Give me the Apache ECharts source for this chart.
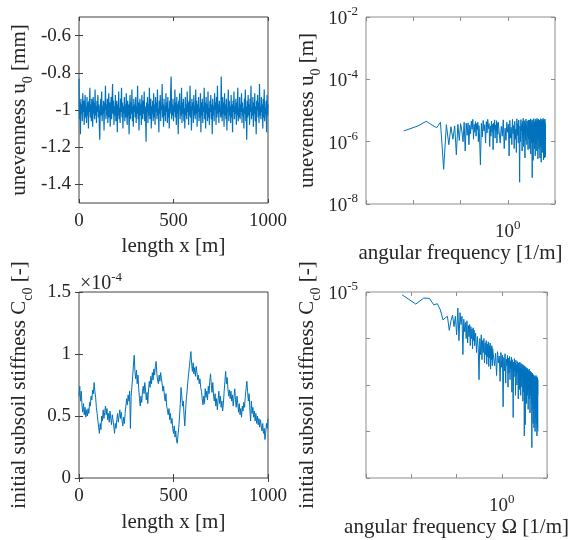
<!DOCTYPE html>
<html><head><meta charset="utf-8">
<script src="https://cdn.jsdelivr.net/npm/echarts@6/dist/echarts.min.js"></script>
<style>html,body{margin:0;padding:0;background:#fff}#c{width:571px;height:540px}</style>
</head><body><div id="c"></div>
<script>
// ---------------- DATA ----------------
// top-left: unevenness u0 [mm] along length x (step in m)
const unevennessStep = 2.5;
const unevenness = [
-0.83,-1.05,-0.96,-1.13,-0.94,-1.02,-0.97,-1.06,-0.91,-1.01,-0.95,-1.08,-0.99,-0.92,-1.04,-0.98,-1.07,-0.93,-1.03,-0.96,
-1.10,-0.95,-1.01,-0.88,-1.04,-0.97,-1.06,-0.94,-1.00,-1.09,-0.93,-1.02,-0.96,-1.05,-0.89,-1.03,-0.98,-1.07,-0.95,-1.01,
-0.92,-1.04,-0.97,-1.08,-1.16,-0.99,-0.94,-1.03,-0.90,-1.06,-0.98,-1.02,-0.95,-1.11,-0.96,-1.00,-0.87,-1.05,-0.97,-1.03,
-0.94,-1.07,-0.99,-0.91,-1.04,-0.96,-1.09,-1.01,-0.93,-1.05,-0.97,-0.86,-1.02,-0.95,-1.08,-0.98,-1.03,-0.92,-1.06,-1.00,
-0.95,-1.12,-0.97,-1.03,-0.90,-1.05,-0.99,-1.07,-0.94,-1.01,-0.88,-1.04,-0.96,-1.10,-0.98,-1.02,-0.93,-1.06,-0.97,-1.04,
-0.91,-1.00,-1.08,-0.95,-1.03,-0.97,-1.13,-0.99,-0.92,-1.05,-0.96,-1.02,-0.89,-1.06,-0.98,-1.09,-0.94,-1.01,-0.97,-1.04,
-0.93,-1.07,-0.98,-1.02,-0.87,-1.05,-0.96,-1.11,-0.99,-0.94,-1.03,-0.97,-1.08,-0.92,-1.00,-1.05,-0.95,-1.02,-0.90,-1.06,
-0.98,-1.04,-1.17,-0.96,-1.01,-0.93,-1.07,-0.97,-1.03,-0.88,-1.05,-0.99,-0.94,-1.10,-0.98,-1.02,-0.95,-1.06,-0.91,-1.04,
-0.97,-1.08,-0.93,-1.01,-0.96,-1.05,-0.89,-1.03,-0.99,-1.12,-0.95,-1.02,-0.92,-1.06,-0.98,-1.00,-0.86,-1.04,-0.97,-1.09,
-0.94,-1.03,-0.98,-1.06,-0.91,-1.01,-0.96,-1.07,-0.93,-1.04,-0.99,-1.10,-0.95,-1.02,-0.90,-0.82,-1.05,-0.97,-1.03,-0.94,
-1.06,-0.98,-1.01,-0.89,-1.04,-0.96,-1.08,-0.93,-1.02,-0.97,-1.13,-0.95,-1.00,-0.91,-1.05,-0.98,-1.03,-0.88,-1.07,-0.96,
-1.02,-0.94,-1.06,-0.99,-1.10,-0.93,-1.03,-0.97,-1.05,-0.90,-1.01,-0.96,-1.08,-0.95,-1.03,-0.87,-1.04,-0.98,-1.11,-0.94,
-1.00,-0.96,-1.07,-0.92,-1.03,-0.98,-1.05,-0.89,-1.02,-0.95,-1.09,-0.97,-1.01,-0.93,-1.06,-0.99,-1.04,-0.91,-1.12,-0.96,
-1.03,-0.94,-1.07,-0.98,-1.01,-0.88,-1.05,-0.96,-1.10,-0.93,-1.02,-0.97,-1.06,-0.90,-1.04,-0.99,-1.08,-0.95,-1.01,-0.92,
-1.05,-0.97,-1.13,-0.94,-1.03,-0.98,-1.06,-0.91,-1.00,-0.96,-1.08,-0.93,-1.04,-0.87,-1.02,-0.97,-1.07,-0.95,-1.01,-0.99,
-1.04,-0.82,-0.98,-1.06,-0.93,-1.02,-0.96,-1.09,-0.91,-1.03,-0.97,-1.05,-0.94,-1.11,-0.99,-1.01,-0.89,-1.06,-0.95,-1.03,
-0.98,-1.07,-0.92,-1.04,-0.97,-1.12,-0.95,-1.01,-0.90,-1.05,-0.98,-1.02,-0.94,-1.08,-0.96,-1.03,-0.88,-1.06,-0.99,-1.04,
-0.93,-1.05,-0.97,-1.01,-0.91,-1.07,-0.96,-1.03,-0.99,-1.10,-0.94,-1.02,-0.89,-1.06,-0.98,-1.16,-0.95,-1.04,-0.92,-1.03,
-0.97,-1.08,-0.94,-1.01,-0.87,-1.05,-0.99,-1.03,-0.93,-1.09,-0.96,-1.02,-0.91,-1.06,-0.98,-1.13,-0.95,-1.00,-0.92,-1.04,
-0.96,-1.07,-0.86,-1.03,-0.98,-1.05,-0.93,-1.01,-0.97,-1.10,-0.94,-1.04,-0.89,-1.06,-0.99,-1.02,-0.95,-1.12,-0.92,-1.03,
-0.97
];

// bottom-left: initial subsoil stiffness Cc0 (in units of 1e-4) along length x
const stiffnessStep = 4;
const stiffness = [
0.66,0.74,0.62,0.70,0.58,0.53,0.60,0.51,0.57,0.49,0.55,0.50,0.56,0.52,0.61,0.58,0.66,0.63,0.71,0.68,0.77,0.70,0.65,0.57,0.52,
0.46,0.41,0.36,0.44,0.39,0.50,0.46,0.55,0.48,0.53,0.58,0.51,0.56,0.47,0.52,0.45,0.54,0.48,0.43,0.51,0.47,0.42,0.36,0.44,0.40,
0.47,0.52,0.45,0.50,0.55,0.48,0.53,0.46,0.42,0.49,0.44,0.52,0.58,0.64,0.59,0.67,0.62,0.70,0.40,0.66,0.74,0.82,0.91,0.99,0.86,
0.80,0.87,0.76,0.83,0.72,0.64,0.58,0.66,0.61,0.70,0.74,0.68,0.77,0.71,0.63,0.69,0.60,0.72,0.78,0.73,0.82,0.76,0.85,0.79,0.88,
0.83,0.90,0.94,0.84,0.79,0.76,0.83,0.78,0.85,0.80,0.76,0.70,0.74,0.66,0.62,0.68,0.58,0.55,0.51,0.56,0.47,0.52,0.44,0.48,0.40,
0.36,0.42,0.33,0.38,0.30,0.28,0.35,0.41,0.50,0.60,0.73,0.66,0.58,0.62,0.50,0.42,0.55,0.64,0.70,0.78,0.84,0.90,0.96,1.02,0.92,
0.86,0.93,0.84,0.89,0.82,0.90,0.85,0.79,0.83,0.76,0.80,0.73,0.70,0.64,0.59,0.66,0.60,0.72,0.65,0.70,0.63,0.74,0.68,0.78,0.84,
0.75,0.69,0.77,0.66,0.62,0.68,0.58,0.64,0.55,0.63,0.70,0.60,0.66,0.57,0.62,0.54,0.60,0.70,0.78,0.86,0.76,0.81,0.72,0.66,0.71,
0.64,0.70,0.62,0.67,0.58,0.65,0.72,0.63,0.57,0.66,0.60,0.53,0.60,0.51,0.56,0.49,0.58,0.54,0.61,0.57,0.66,0.72,0.78,0.70,0.62,
0.68,0.55,0.46,0.62,0.52,0.57,0.49,0.54,0.46,0.52,0.44,0.50,0.43,0.48,0.41,0.47,0.42,0.38,0.44,0.36,0.40,0.31,0.37,0.44,0.40,
0.48
];

// spectra: angular frequency grid = index * freqStep
const freqStep = 0.0062832;
const freqIndexSegments = [[1, 40, 1], [42, 100, 2], [104, 998, 6]];

// top-right: spectrum of unevenness u0 [m]
const uSpecLow = [2.2e-6,3.2e-6,4.5e-6,3.4e-6,2.8e-6,4.2e-6,1.3e-7,3.5e-6,8e-7,3.0e-6,
1.2e-6,3.2e-6,3.8e-7,3.6e-6,1.1e-6,3.8e-6,2.2e-6,1.0e-6,4.2e-6,5.0e-7,
3.9e-6,1.6e-6,4.0e-6,8e-7,3.4e-6,1.8e-6,4.6e-6,2.5e-6,5.2e-6,1.2e-6,
3.6e-6,2.0e-6,4.4e-6,1.5e-6,3.8e-6,2.4e-6,4.2e-6,1.0e-6,3.3e-6,2.0e-6];
const uSpecMid = [1.8e-7,3.9e-6,1.4e-6,4.8e-6,2.2e-6,3.5e-6,9e-7,4.4e-6,1.9e-6,5.2e-6,
2.6e-6,3.8e-6,7e-7,3.2e-6,1.5e-6,4.6e-6,2.0e-6,3.6e-6,5.5e-7,4.0e-6,
2.4e-6,5.0e-6,1.3e-6,3.4e-6,2.1e-6,4.7e-6,9e-7,3.9e-6,1.7e-6,4.3e-6];
const uSpecHigh = [4.6e-6,9e-7,3.1e-6,1.5e-6,5.0e-6,6e-7,2.7e-6,1.1e-6,4.2e-6,2.0e-6,
3.6e-6,3.5e-7,4.8e-6,1.3e-6,2.9e-6,8e-7,5.2e-6,1.8e-6,3.3e-6,6e-7,
4.5e-6,1.2e-6,2.5e-6,4.5e-7,5.4e-6,1.6e-6,3.8e-6,9e-7,4.9e-6,1.4e-6,
5e-8,3.2e-6,1.0e-6,5.1e-6,2.2e-6,3.7e-6,5e-7,4.4e-6,1.3e-6,5.6e-6,
7e-7,3.0e-6,1.7e-6,4.7e-6,3e-7,3.9e-6,1.1e-6,5.3e-6,2.0e-6,3.4e-6,
8e-7,4.6e-6,1.5e-6,2.8e-6,5.5e-7,5.0e-6,1.2e-6,3.6e-6,2.4e-6,4.9e-6,
6e-7,3.1e-6,1.9e-6,5.4e-6,4e-7,4.2e-6,1.4e-6,3.3e-6,9e-7,5.1e-6,
7e-8,3.7e-6,1.6e-6,4.8e-6,2.5e-7,2.9e-6,1.0e-6,5.5e-6,1.8e-6,3.9e-6,
6e-7,4.4e-6,1.3e-6,3.2e-6,3.5e-7,5.2e-6,2.1e-6,3.6e-6,8e-7,4.7e-6,
1.5e-6,2.7e-6,5e-7,5.6e-6,1.2e-6,3.5e-6,2.3e-6,4.9e-6,2.8e-7,3.8e-6,
1.1e-6,5.3e-6,1.7e-6,3.0e-6,6e-7,4.5e-6,1.4e-6,3.4e-6,9e-7,5.0e-6,
3e-7,4.1e-6,1.9e-6,2.9e-6,7e-7,5.5e-6,1.2e-6,3.7e-6,2.2e-7,4.6e-6,
1.6e-6,3.2e-6,8e-7,5.2e-6,1.3e-6,3.9e-6,4.5e-7,4.8e-6,2.0e-6,3.1e-6,
6e-7,5.6e-6,1.1e-6,3.6e-6,2.6e-7,4.3e-6,1.5e-6,5.0e-6,7e-7,3.4e-6,
1.2e-6,4.7e-6,3e-7,3.8e-6,1.7e-6,5.3e-6,9e-7,4.0e-6,3.2e-7,3.5e-6];

// bottom-right: spectrum of initial subsoil stiffness Cc0 [-]
const cSpecLow = [8.7e-6,5.5e-6,7.4e-6,7.3e-6,5.3e-6,5.6e-6,4.1e-6,2.5e-6,2.8e-6,3.0e-6,
1.5e-6,2.4e-6,3.2e-6,1.8e-6,3.0e-6,1.2e-6,4.5e-6,9e-7,3.6e-6,2.0e-6,
3.0e-6,4.5e-7,2.6e-6,1.4e-6,2.2e-6,1.0e-6,2.4e-6,8e-7,1.9e-6,1.1e-6,
2.0e-6,7e-7,1.8e-6,1.0e-6,1.6e-6,6e-7,1.7e-6,9e-7,1.5e-6,7e-7];
const cSpecMid = [1.3e-6,5e-7,1.1e-6,6e-7,1.3e-7,1.0e-6,4.5e-7,1.2e-6,3.5e-7,9e-7,
5e-7,1.0e-6,3e-7,8e-7,4.5e-7,9e-7,2.8e-7,7.5e-7,4e-7,8.5e-7,
2.5e-7,7e-7,3.8e-7,8e-7,2.2e-7,6.5e-7,3.5e-7,7e-7,2.6e-7,6e-7];
const cSpecHigh = [5.5e-7,2.6e-7,4.8e-7,1.6e-7,5.2e-7,3.0e-7,4.2e-7,1.2e-7,5.0e-7,2.4e-7,
4.4e-7,3.4e-8,3.9e-7,2.0e-7,4.7e-7,1.1e-7,3.6e-7,2.6e-7,4.3e-7,9e-8,
3.8e-7,1.8e-7,4.1e-7,1.3e-7,3.3e-7,2.2e-7,4.0e-7,7e-8,3.5e-7,1.7e-7,
2.0e-8,3.1e-7,1.5e-7,3.7e-7,2.0e-7,2.9e-7,6e-8,3.4e-7,1.6e-7,2.7e-7,
1.0e-7,3.2e-7,1.9e-7,2.6e-7,5e-8,3.0e-7,1.4e-7,2.5e-7,8e-8,3.1e-7,
1.7e-7,2.3e-7,6e-8,2.9e-7,1.3e-7,2.4e-7,9e-8,2.8e-7,1.5e-7,2.2e-7,
4.5e-8,2.7e-7,1.2e-7,2.1e-7,7e-8,2.6e-7,8e-9,2.3e-7,1.1e-7,2.5e-7,
1.4e-8,2.0e-7,9e-8,2.4e-7,1.3e-7,1.9e-7,4e-8,2.2e-7,1.0e-7,2.3e-7,
6e-8,1.8e-7,1.2e-7,2.1e-7,3e-8,2.0e-7,8e-8,1.7e-7,1.1e-7,2.2e-7,
5e-8,1.9e-7,9e-8,1.6e-7,2.5e-8,2.0e-7,1.0e-7,1.8e-7,6e-8,1.5e-7,
1.1e-7,1.9e-7,4e-8,1.7e-7,8e-8,4.5e-9,1.6e-7,9e-8,1.8e-7,3e-8,
1.4e-7,7e-8,1.7e-7,1.5e-8,1.5e-7,5e-8,1.6e-7,1.0e-7,1.4e-7,1.2e-8,
1.6e-7,6e-8,1.3e-7,3e-8,1.5e-7,8e-8,1.2e-7,1.0e-8,1.4e-7,5e-8,
1.5e-7,2e-8,1.3e-7,9e-8,1.6e-7,1.5e-8,1.2e-7,4e-8,1.4e-7,7e-8,
1.3e-7,8e-9,1.5e-7,5e-8,1.2e-7,1.2e-8,1.4e-7,6e-8,1.3e-7,1.0e-8];

// axis texts
const unevennessTicks = [-1.4, -1.2, -1, -0.8, -0.6];

// ---------------- BUILD ----------------
const freqIndex = [];
freqIndexSegments.forEach(([a, b, s]) => { for (let k = a; k <= b; k += s) freqIndex.push(k); });
const freq = freqIndex.map(k => k * freqStep);
const uSpec = uSpecLow.concat(uSpecMid, uSpecHigh);
const cSpec = cSpecLow.concat(cSpecMid, cSpecHigh);

const FONT = '"Liberation Serif", "Times New Roman", serif';
const TXT = '#262626';
const BLUE = '#0072BD';
const TICK_FS = 19;
const NAME_FS = 21;

const nameRich = {
  t: { fontFamily: FONT, fontSize: NAME_FS, color: TXT, verticalAlign: 'bottom', padding: [0, 0, 5, 0] },
  s: { fontFamily: FONT, fontSize: 14, color: TXT, verticalAlign: 'bottom', padding: [0, 0, 0, 0] }
};
const expRich = {
  b: { fontFamily: FONT, fontSize: TICK_FS, color: TXT, verticalAlign: 'bottom' },
  e: { fontFamily: FONT, fontSize: 13, color: TXT, verticalAlign: 'bottom', padding: [0, 0, 10, 0] }
};
function expFmt(only) {
  return function (v) {
    const e = Math.round(Math.log10(v));
    if (only !== undefined && only.indexOf(e) < 0) return '';
    return '{b|10}{e|' + e + '}';
  };
}
const plainFmt = v => String(+(+v).toFixed(2));

const grids = [
  { left: 79, top: 17, width: 189, height: 186, borderColor: '#404040' },
  { left: 366, top: 17, width: 189, height: 187, borderColor: '#8c8c8c' },
  { left: 79, top: 292, width: 189, height: 186, borderColor: '#404040' },
  { left: 366, top: 292, width: 189, height: 186, borderColor: '#8c8c8c' }
].map(g => Object.assign({ show: true, borderWidth: 1, backgroundColor: 'transparent' }, g));

function tick(color) { return { show: true, inside: true, length: 4, lineStyle: { color: color, width: 1 } }; }

function mkX(gi, base, name, labelExtra, gap) {
  const bottom = Object.assign({}, base, {
    gridIndex: gi, position: 'bottom',
    axisLine: { show: false }, splitLine: { show: false },
    axisTick: tick(grids[gi].borderColor),
    axisLabel: Object.assign({ fontFamily: FONT, fontSize: TICK_FS, color: TXT, margin: 9, showMinLabel: true, showMaxLabel: true }, labelExtra),
    name: name, nameLocation: 'middle', nameGap: gap,
    nameTextStyle: { fontFamily: FONT, fontSize: NAME_FS, color: TXT }
  });
  const top = Object.assign({}, base, {
    gridIndex: gi, position: 'top',
    axisLine: { show: false }, splitLine: { show: false },
    axisTick: tick(grids[gi].borderColor),
    axisLabel: { show: false }
  });
  return [bottom, top];
}
function mkY(gi, base, name, gap, labelExtra, tickExtra) {
  const left = Object.assign({}, base, {
    gridIndex: gi, position: 'left',
    axisLine: { show: false }, splitLine: { show: false },
    axisTick: Object.assign(tick(grids[gi].borderColor), tickExtra || {}),
    axisLabel: Object.assign({ fontFamily: FONT, fontSize: TICK_FS, color: TXT, margin: 8, showMinLabel: true, showMaxLabel: true }, labelExtra),
    name: name, nameLocation: 'middle', nameGap: gap, nameRotate: 90,
    nameTextStyle: { rich: nameRich }
  });
  const right = Object.assign({}, base, {
    gridIndex: gi, position: 'right',
    axisLine: { show: false }, splitLine: { show: false },
    axisTick: Object.assign(tick(grids[gi].borderColor), tickExtra || {}),
    axisLabel: { show: false }
  });
  return [left, right];
}

const xAxes = [].concat(
  mkX(0, { type: 'value', min: 0, max: 1000, interval: 500 }, 'length x [m]', { formatter: plainFmt }, 33),
  mkX(1, { type: 'log', logBase: 10, min: 0.001, max: 10, interval: 1 }, 'angular frequency [1/m]',
    { formatter: expFmt([0]), rich: expRich, margin: 15 }, 34),
  mkX(2, { type: 'value', min: 0, max: 1000, interval: 500 }, 'length x [m]', { formatter: plainFmt }, 34),
  mkX(3, { type: 'log', logBase: 10, min: 0.001, max: 10, interval: 1 }, 'angular frequency \u03A9 [1/m]',
    { formatter: expFmt([0]), rich: expRich, margin: 15 }, 34)
);

const yAxes = [].concat(
  mkY(0, { type: 'value', min: -1.5, max: -0.5 }, '{t|unevenness u}{s|0}{t| [mm]}', 44,
    { customValues: unevennessTicks, formatter: plainFmt }, { customValues: unevennessTicks }),
  mkY(1, { type: 'log', logBase: 10, min: 1e-8, max: 1e-2, interval: 2 }, '{t|unevenness u}{s|0}{t| [m]}', 43,
    { formatter: expFmt(), rich: expRich }),
  mkY(2, { type: 'value', min: 0, max: 1.5, interval: 0.5 }, '{t|initial subsoil stiffness C}{s|c0}{t| [-]}', 44,
    { formatter: plainFmt }),
  mkY(3, { type: 'log', logBase: 10, min: 1e-9, max: 1e-5, interval: 1 }, '{t|initial subsoil stiffness C}{s|c0}{t| [-]}', 43,
    { formatter: expFmt([-5]), rich: expRich })
);

function line(xi, yi, data, w) {
  return {
    type: 'line', xAxisIndex: xi, yAxisIndex: yi, data: data, symbol: 'none', showSymbol: false,
    lineStyle: { color: BLUE, width: w }, itemStyle: { color: BLUE }, animation: false, silent: true,
    clip: true
  };
}

const option = {
  backgroundColor: '#ffffff',
  animation: false,
  grid: grids,
  xAxis: xAxes,
  yAxis: yAxes,
  series: [
    line(0, 0, unevenness.map((v, i) => [i * unevennessStep, v]), 1.2),
    line(2, 2, freq.map((f, i) => [f, uSpec[i]]), 1),
    line(4, 4, stiffness.map((v, i) => [i * stiffnessStep, v]), 1),
    line(6, 6, freq.map((f, i) => [f, cSpec[i]]), 1)
  ],
  graphic: [{
    type: 'text', left: 80, top: 271,
    style: {
      text: '{m|\u00D710}{e|-4}',
      rich: {
        m: { fontFamily: FONT, fontSize: 20, fill: TXT, verticalAlign: 'bottom' },
        e: { fontFamily: FONT, fontSize: 13, fill: TXT, verticalAlign: 'bottom', padding: [0, 0, 10, 0] }
      }
    }
  }]
};

const chart = echarts.init(document.getElementById('c'), null, { renderer: 'canvas' });
chart.setOption(option);
</script>
</body></html>
